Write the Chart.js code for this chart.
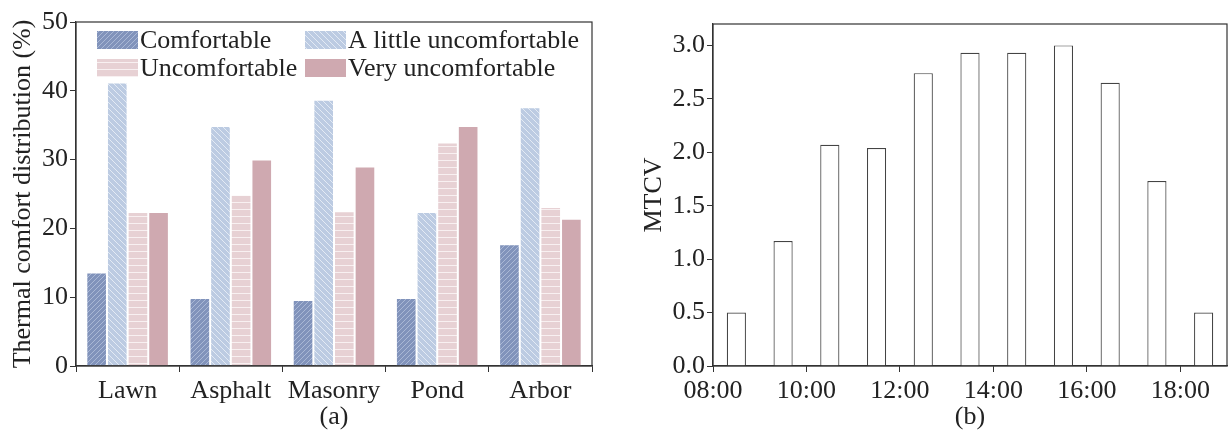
<!DOCTYPE html>
<html>
<head>
<meta charset="utf-8">
<script src="https://cdn.jsdelivr.net/npm/chart.js@4.4.1/dist/chart.umd.min.js"></script>
<style>
  html, body { margin: 0; padding: 0; background: #fff; }
  #wrap { position: relative; width: 1228px; height: 436px; }
  #chartA { position: absolute; left: 0; top: 0; }
  #chartB { position: absolute; left: 620px; top: 0; }
</style>
</head>
<body>
<div id="wrap">
  <canvas id="chartA" width="620" height="436"></canvas>
  <canvas id="chartB" width="608" height="436"></canvas>
</div>
<script>
// (a) thermal comfort distribution per site, in %
const sites = ["Lawn", "Asphalt", "Masonry", "Pond", "Arbor"];
const levelNames = ["Comfortable", "A little uncomfortable", "Uncomfortable", "Very uncomfortable"];
const comfortable = [13.6, 9.9, 9.6, 9.9, 17.7];
const littleUncomfortable = [41.2, 34.9, 38.7, 22.4, 37.6];
const uncomfortable = [22.4, 24.9, 22.5, 32.5, 23.1];
const veryUncomfortable = [22.4, 30.0, 29.0, 34.9, 21.4];
const comfortTicks = [0, 10, 20, 30, 40, 50];

// (b) MTCV by hour (bars sit at the half hour)
const hours = [8.5, 9.5, 10.5, 11.5, 12.5, 13.5, 14.5, 15.5, 16.5, 17.5, 18.5];
const mtcv = [0.50, 1.17, 2.07, 2.04, 2.74, 2.93, 2.93, 3.00, 2.65, 1.73, 0.50];
const timeTicks = ["08:00", "10:00", "12:00", "14:00", "16:00", "18:00"];
const mtcvTicks = [0, 0.5, 1, 1.5, 2, 2.5, 3];

const FONT = '"Liberation Serif", "DejaVu Serif", serif';
const FS = 26;
const INK = "#222";

// little tiles for the hatched fills
function hatch(base, line, kind, size) {
  const c = document.createElement("canvas");
  c.width = size; c.height = size;
  const g = c.getContext("2d");
  g.fillStyle = base;
  g.fillRect(0, 0, size, size);
  g.strokeStyle = line;
  g.lineWidth = 1;
  g.beginPath();
  if (kind === "/") {
    for (let k = -size; k <= size; k += size) { g.moveTo(k, size); g.lineTo(k + size, 0); }
  } else if (kind === "\\") {
    for (let k = -size; k <= size; k += size) { g.moveTo(k, 0); g.lineTo(k + size, size); }
  } else {
    g.moveTo(0, size - 0.5); g.lineTo(size, size - 0.5);
  }
  g.stroke();
  return g.createPattern(c, "repeat");
}

const fills = [
  hatch("#8193bb", "#aab8d5", "/", 5),
  hatch("#bccbe2", "#e3eaf4", "\\", 6),
  hatch("#e7d1d4", "#f8f0f1", "-", 7),
  "#cfa9b0"
];

// box round the plot area
const framePlugin = {
  id: "frame",
  afterDraw(chart) {
    const { ctx, chartArea: a } = chart;
    ctx.save();
    ctx.strokeStyle = "#333";
    ctx.lineWidth = 1.2;
    ctx.strokeRect(a.left, a.top, a.right - a.left, a.bottom - a.top);
    ctx.restore();
  }
};

// two-column legend drawn inside the plot
const insideLegend = {
  id: "insideLegend",
  afterDraw(chart) {
    const { ctx, chartArea: a } = chart;
    const cols = [a.left + 21, a.left + 229];
    const rows = [a.top + 18, a.top + 46];
    ctx.save();
    ctx.font = FS + "px " + FONT;
    ctx.textBaseline = "middle";
    chart.data.datasets.forEach((ds, i) => {
      const x = cols[i % 2], y = rows[Math.floor(i / 2)];
      ctx.fillStyle = ds.backgroundColor;
      ctx.fillRect(x, y - 9, 41, 18);
      ctx.fillStyle = INK;
      ctx.fillText(ds.label, x + 43, y + 1);
    });
    ctx.restore();
  }
};

const seriesA = [comfortable, littleUncomfortable, uncomfortable, veryUncomfortable];

new Chart(document.getElementById("chartA"), {
  type: "bar",
  data: {
    labels: sites,
    datasets: seriesA.map((vals, i) => ({
      label: levelNames[i],
      data: vals,
      backgroundColor: fills[i],
      borderColor: "rgba(255,255,255,0.55)",
      borderWidth: 1,
      categoryPercentage: 0.8,
      barPercentage: 1.0
    }))
  },
  options: {
    responsive: false,
    animation: false,
    layout: { padding: { top: 22, right: 28, left: 0, bottom: 0 } },
    plugins: { legend: { display: false }, tooltip: { enabled: false } },
    scales: {
      x: {
        afterFit: s => { s.height = 70; },
        grid: { drawOnChartArea: false, drawTicks: true, tickLength: 6, color: "#333", offset: true },
        border: { color: "#333", width: 1.2 },
        ticks: { color: INK, font: { family: FONT, size: FS }, padding: 4 },
        title: { display: true, text: "(a)", color: INK, font: { family: FONT, size: FS }, padding: { top: 0, bottom: 3 } }
      },
      y: {
        min: 0, max: 50,
        afterFit: s => { s.width = 76; },
        afterBuildTicks: s => { s.ticks = comfortTicks.map(v => ({ value: v })); },
        grid: { drawOnChartArea: false, drawTicks: true, tickLength: 6, color: "#333" },
        border: { color: "#333", width: 1.2 },
        ticks: { color: INK, font: { family: FONT, size: FS }, padding: 2 },
        title: { display: true, text: "Thermal comfort distribution (%)", color: INK, font: { family: FONT, size: FS }, padding: { top: 8, bottom: 0 } }
      }
    }
  },
  plugins: [framePlugin, insideLegend]
});

new Chart(document.getElementById("chartB"), {
  type: "bar",
  data: {
    datasets: [{
      label: "MTCV",
      data: hours.map((h, i) => ({ x: h, y: mtcv[i] })),
      backgroundColor: "#fff",
      borderColor: "#444",
      borderWidth: 1.2,
      categoryPercentage: 1,
      barPercentage: 0.41
    }]
  },
  options: {
    responsive: false,
    animation: false,
    layout: { padding: { top: 24, right: 1, left: 0, bottom: 0 } },
    plugins: { legend: { display: false }, tooltip: { enabled: false } },
    scales: {
      x: {
        type: "linear",
        min: 8, max: 19,
        offset: false,
        afterFit: s => { s.height = 70; },
        afterBuildTicks: s => { s.ticks = timeTicks.map(t => ({ value: parseInt(t, 10) })); },
        grid: { drawOnChartArea: false, drawTicks: true, tickLength: 6, color: "#333", offset: false },
        border: { color: "#333", width: 1.2 },
        ticks: {
          color: INK, font: { family: FONT, size: FS }, padding: 4,
          callback: v => timeTicks.find(t => parseInt(t, 10) === v) || ""
        },
        title: { display: true, text: "(b)", color: INK, font: { family: FONT, size: FS }, padding: { top: 0, bottom: 3 } }
      },
      y: {
        min: 0, max: 3.2,
        afterFit: s => { s.width = 93; },
        afterBuildTicks: s => { s.ticks = mtcvTicks.map(v => ({ value: v })); },
        grid: { drawOnChartArea: false, drawTicks: true, tickLength: 6, color: "#333" },
        border: { color: "#333", width: 1.2 },
        ticks: { color: INK, font: { family: FONT, size: FS }, padding: 2, callback: v => v.toFixed(1) },
        title: { display: true, text: "MTCV", color: INK, font: { family: FONT, size: FS }, padding: { top: 19, bottom: 0 } }
      }
    }
  },
  plugins: [framePlugin]
});
</script>
</body>
</html>
